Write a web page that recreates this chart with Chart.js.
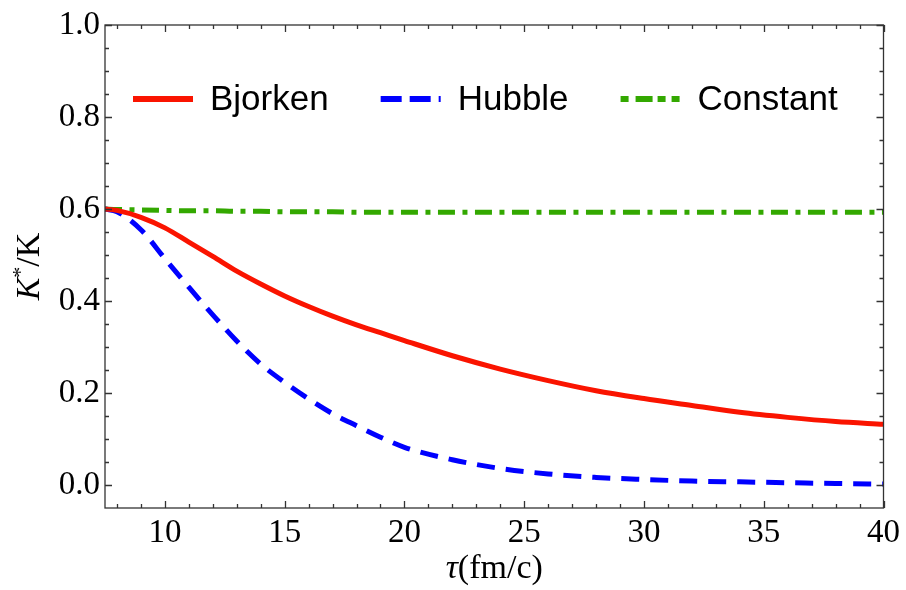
<!DOCTYPE html>
<html>
<head>
<meta charset="utf-8">
<script src="https://cdn.jsdelivr.net/npm/chart.js@4/dist/chart.umd.min.js"></script>
<style>
  html, body { margin: 0; padding: 0; background: #fff; }
</style>
</head>
<body>
<canvas id="graficoRazao" width="906" height="590"></canvas>
<script>
// tempo próprio (fm/c) e razão K*/K para cada cenário de expansão
const tau       = [7.5, 8, 9, 10, 11, 12, 13, 14, 15, 16, 17, 18, 19, 20, 22, 24, 26, 28, 30, 32, 34, 36, 38, 40];
const bjorken   = [0.600, 0.597, 0.582, 0.559, 0.528, 0.497, 0.465, 0.437, 0.411, 0.388, 0.367, 0.348, 0.331, 0.314,
                   0.281, 0.252, 0.227, 0.205, 0.188, 0.173, 0.158, 0.147, 0.138, 0.132];
const hubble    = [0.600, 0.594, 0.555, 0.492, 0.430, 0.370, 0.313, 0.263, 0.223, 0.187, 0.155, 0.129, 0.104, 0.082,
                   0.055, 0.036, 0.024, 0.0165, 0.012, 0.0085, 0.0068, 0.005, 0.0033, 0.002];
const constante = [0.600, 0.599, 0.598, 0.597, 0.596, 0.596, 0.595, 0.595, 0.594, 0.594, 0.594, 0.593, 0.593, 0.593,
                   0.593, 0.593, 0.593, 0.593, 0.593, 0.593, 0.593, 0.593, 0.593, 0.593];

const nomesSeries = ['Bjorken', 'Hubble', 'Constant'];
const ticksX = [10, 15, 20, 25, 30, 35, 40];
const ticksY = [0.0, 0.2, 0.4, 0.6, 0.8, 1.0];

const serif = "'Liberation Serif', 'Times New Roman', serif";
const sans = "'Liberation Sans', Arial, sans-serif";

const pontos = ys => tau.map((t, i) => ({ x: t, y: ys[i] }));

// moldura com marcas para dentro (maiores e menores)
const moldura = {
  id: 'moldura',
  afterDraw(chart) {
    const { ctx, chartArea: a, scales: { x, y } } = chart;
    ctx.save();
    ctx.strokeStyle = '#333';
    ctx.lineWidth = 1.3;
    ctx.strokeRect(a.left, a.top, a.right - a.left, a.bottom - a.top);
    ctx.beginPath();
    for (let v = 8; v <= 40; v++) {
      const px = Math.round(x.getPixelForValue(v)) + 0.5;
      const len = v % 5 === 0 ? 7 : 4;
      ctx.moveTo(px, a.bottom); ctx.lineTo(px, a.bottom - len);
      ctx.moveTo(px, a.top); ctx.lineTo(px, a.top + len);
    }
    for (let k = 0; k <= 20; k++) {
      const py = Math.round(y.getPixelForValue(k * 0.05)) + 0.5;
      const len = k % 4 === 0 ? 7 : 4;
      ctx.moveTo(a.left, py); ctx.lineTo(a.left + len, py);
      ctx.moveTo(a.right, py); ctx.lineTo(a.right - len, py);
    }
    ctx.stroke();
    ctx.restore();
  }
};

// títulos dos eixos com partes em itálico
const titulos = {
  id: 'titulos',
  afterDraw(chart) {
    const { ctx, chartArea: a } = chart;
    ctx.save();
    ctx.fillStyle = '#000';
    ctx.textBaseline = 'alphabetic';

    // eixo x: τ(fm/c)
    const fIt = 'italic 34px ' + serif, fRm = '34px ' + serif;
    ctx.font = fIt; const w1 = ctx.measureText('τ').width;
    ctx.font = fRm; const w2 = ctx.measureText('(fm/c)').width;
    let cx = (a.left + a.right) / 2 - (w1 + w2) / 2;
    ctx.font = fIt; ctx.fillText('τ', cx, 578);
    ctx.font = fRm; ctx.fillText('(fm/c)', cx + w1, 578);

    // eixo y: K*/K
    ctx.translate(39, (a.top + a.bottom) / 2);
    ctx.rotate(-Math.PI / 2);
    ctx.font = fIt; const k1 = ctx.measureText('K').width;
    ctx.font = '22px ' + serif; const k2 = ctx.measureText('*').width;
    ctx.font = fRm; const k3 = ctx.measureText('/K').width;
    let sx = -(k1 + k2 + k3) / 2;
    ctx.font = fIt; ctx.fillText('K', sx, 0);
    ctx.font = '22px ' + serif; ctx.fillText('*', sx + k1, -12);
    ctx.font = fRm; ctx.fillText('/K', sx + k1 + k2, 0);
    ctx.restore();
  }
};

// legenda dentro da área do gráfico; tracejado próprio para a amostra de 60px
const tracosLegenda = [[], [21, 8], [8, 7, 17, 5, 8, 6, 8, 20]];
const legendaInterna = {
  id: 'legendaInterna',
  afterDraw(chart) {
    const { ctx } = chart;
    const yLinha = 99, tamLinha = 60, folga = 17, entreItens = 52;
    let x = 133;
    ctx.save();
    ctx.font = '35px ' + sans;
    ctx.textBaseline = 'middle';
    chart.data.datasets.forEach((ds, i) => {
      ctx.strokeStyle = ds.borderColor;
      ctx.lineWidth = 6;
      ctx.lineCap = 'butt';
      ctx.setLineDash(tracosLegenda[i]);
      ctx.beginPath();
      ctx.moveTo(x, yLinha); ctx.lineTo(x + tamLinha, yLinha);
      ctx.stroke();
      ctx.setLineDash([]);
      ctx.fillStyle = '#000';
      ctx.fillText(ds.label, x + tamLinha + folga, yLinha + 1);
      x += tamLinha + folga + ctx.measureText(ds.label).width + entreItens;
    });
    ctx.restore();
  }
};

const ctx = document.getElementById('graficoRazao').getContext('2d');
new Chart(ctx, {
  type: 'line',
  data: {
    datasets: [
      { label: nomesSeries[0], data: pontos(bjorken), borderColor: '#fa1400', borderWidth: 5 },
      { label: nomesSeries[1], data: pontos(hubble), borderColor: '#0000ff', borderWidth: 5, borderDash: [18, 11] },
      { label: nomesSeries[2], data: pontos(constante), borderColor: '#33a800', borderWidth: 5, borderDash: [17, 7.5, 5, 7.5] }
    ]
  },
  options: {
    responsive: false,
    animation: false,
    devicePixelRatio: 1,
    layout: { padding: { top: 25, right: 21, left: 0, bottom: 0 } },
    elements: {
      point: { radius: 0 },
      line: { cubicInterpolationMode: 'monotone', borderCapStyle: 'butt' }
    },
    plugins: { legend: { display: false }, tooltip: { enabled: false } },
    scales: {
      x: {
        type: 'linear',
        min: 7.5, max: 40,
        afterBuildTicks: s => { s.ticks = ticksX.map(v => ({ value: v })); },
        afterFit: s => { s.height = 82; },
        grid: { display: false, drawTicks: false },
        border: { display: false },
        ticks: { padding: 6, color: '#000', font: { family: serif, size: 33 }, maxRotation: 0 }
      },
      y: {
        min: -0.05, max: 1.0,
        afterBuildTicks: s => { s.ticks = ticksY.map(v => ({ value: v })); },
        afterFit: s => { s.width = 105; },
        grid: { display: false, drawTicks: false },
        border: { display: false },
        ticks: { padding: 5, color: '#000', font: { family: serif, size: 33 }, callback: v => v.toFixed(1) }
      }
    }
  },
  plugins: [moldura, titulos, legendaInterna]
});
</script>
</body>
</html>
